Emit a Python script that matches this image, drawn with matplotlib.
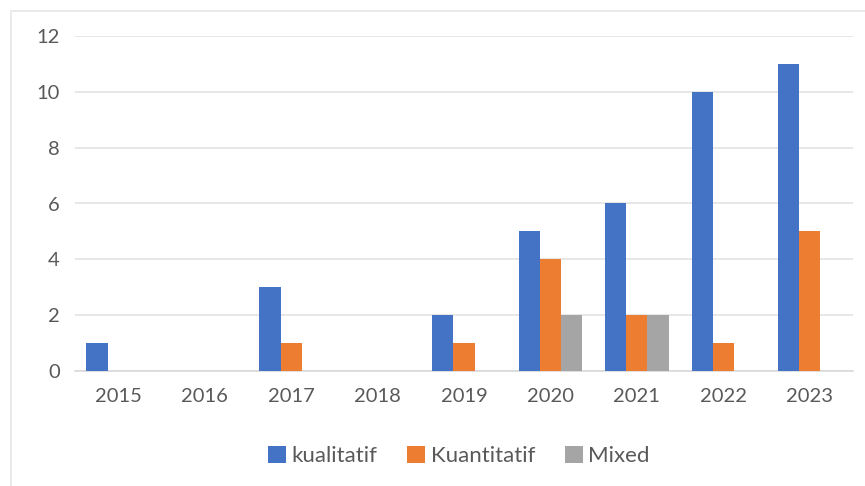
import numpy as np
import matplotlib
matplotlib.use("Agg")
import matplotlib.pyplot as plt
import matplotlib.patches as mpatches

years = ['2015', '2016', '2017', '2018', '2019', '2020', '2021', '2022', '2023']
kualitatif = [1, 0, 3, 0, 2, 5, 6, 10, 11]
kuantitatif = [0, 0, 1, 0, 1, 4, 2, 1, 5]
mixed = [0, 0, 0, 0, 0, 2, 2, 0, 0]

series = [('kualitatif', kualitatif, '#4472C4'),
          ('Kuantitatif', kuantitatif, '#ED7D31'),
          ('Mixed', mixed, '#A5A5A5')]

plt.rcParams['font.family'] = ['Lato', 'DejaVu Sans']
text_color = '#595959'

fig = plt.figure(figsize=(8.65, 4.86), dpi=100)
ax = fig.add_axes([75 / 865, 1 - 371 / 486, (853 - 75) / 865, (371 - 36) / 486])

# light chart border (Excel style)
fig.patches.append(mpatches.Rectangle((11 / 865, -0.01), 1.0, 1 - 11 / 486 + 0.01,
                                      transform=fig.transFigure, fill=False,
                                      edgecolor='#E6E6E6', linewidth=1.2))

x = np.arange(len(years))
width = 0.245
for i, (name, vals, color) in enumerate(series):
    ax.bar(x + (i - 1) * width, vals, width, color=color, label=name, zorder=3)

ax.set_xlim(-0.5, len(years) - 0.5)
ax.set_ylim(0, 12)
ax.set_yticks(range(0, 13, 2))
ax.set_xticks(x)
ax.set_xticklabels(years)
ax.grid(axis='y', color='#E3E3E3', linewidth=1.2, zorder=0)
for s in ['top', 'right', 'left']:
    ax.spines[s].set_visible(False)
ax.spines['bottom'].set_color('#D9D9D9')
ax.spines['bottom'].set_linewidth(1.2)
ax.tick_params(axis='both', length=0, labelsize=14.5, colors=text_color)
ax.tick_params(axis='x', pad=12)
ax.tick_params(axis='y', pad=11)

fig.legend(loc='center', bbox_to_anchor=(459 / 865, 1 - 456 / 486), ncol=3,
           frameon=False, fontsize=16, labelcolor=text_color,
           handlelength=0.8, handleheight=0.8, handletextpad=0.25, columnspacing=1.35)

fig.savefig('out.png', dpi=100)
